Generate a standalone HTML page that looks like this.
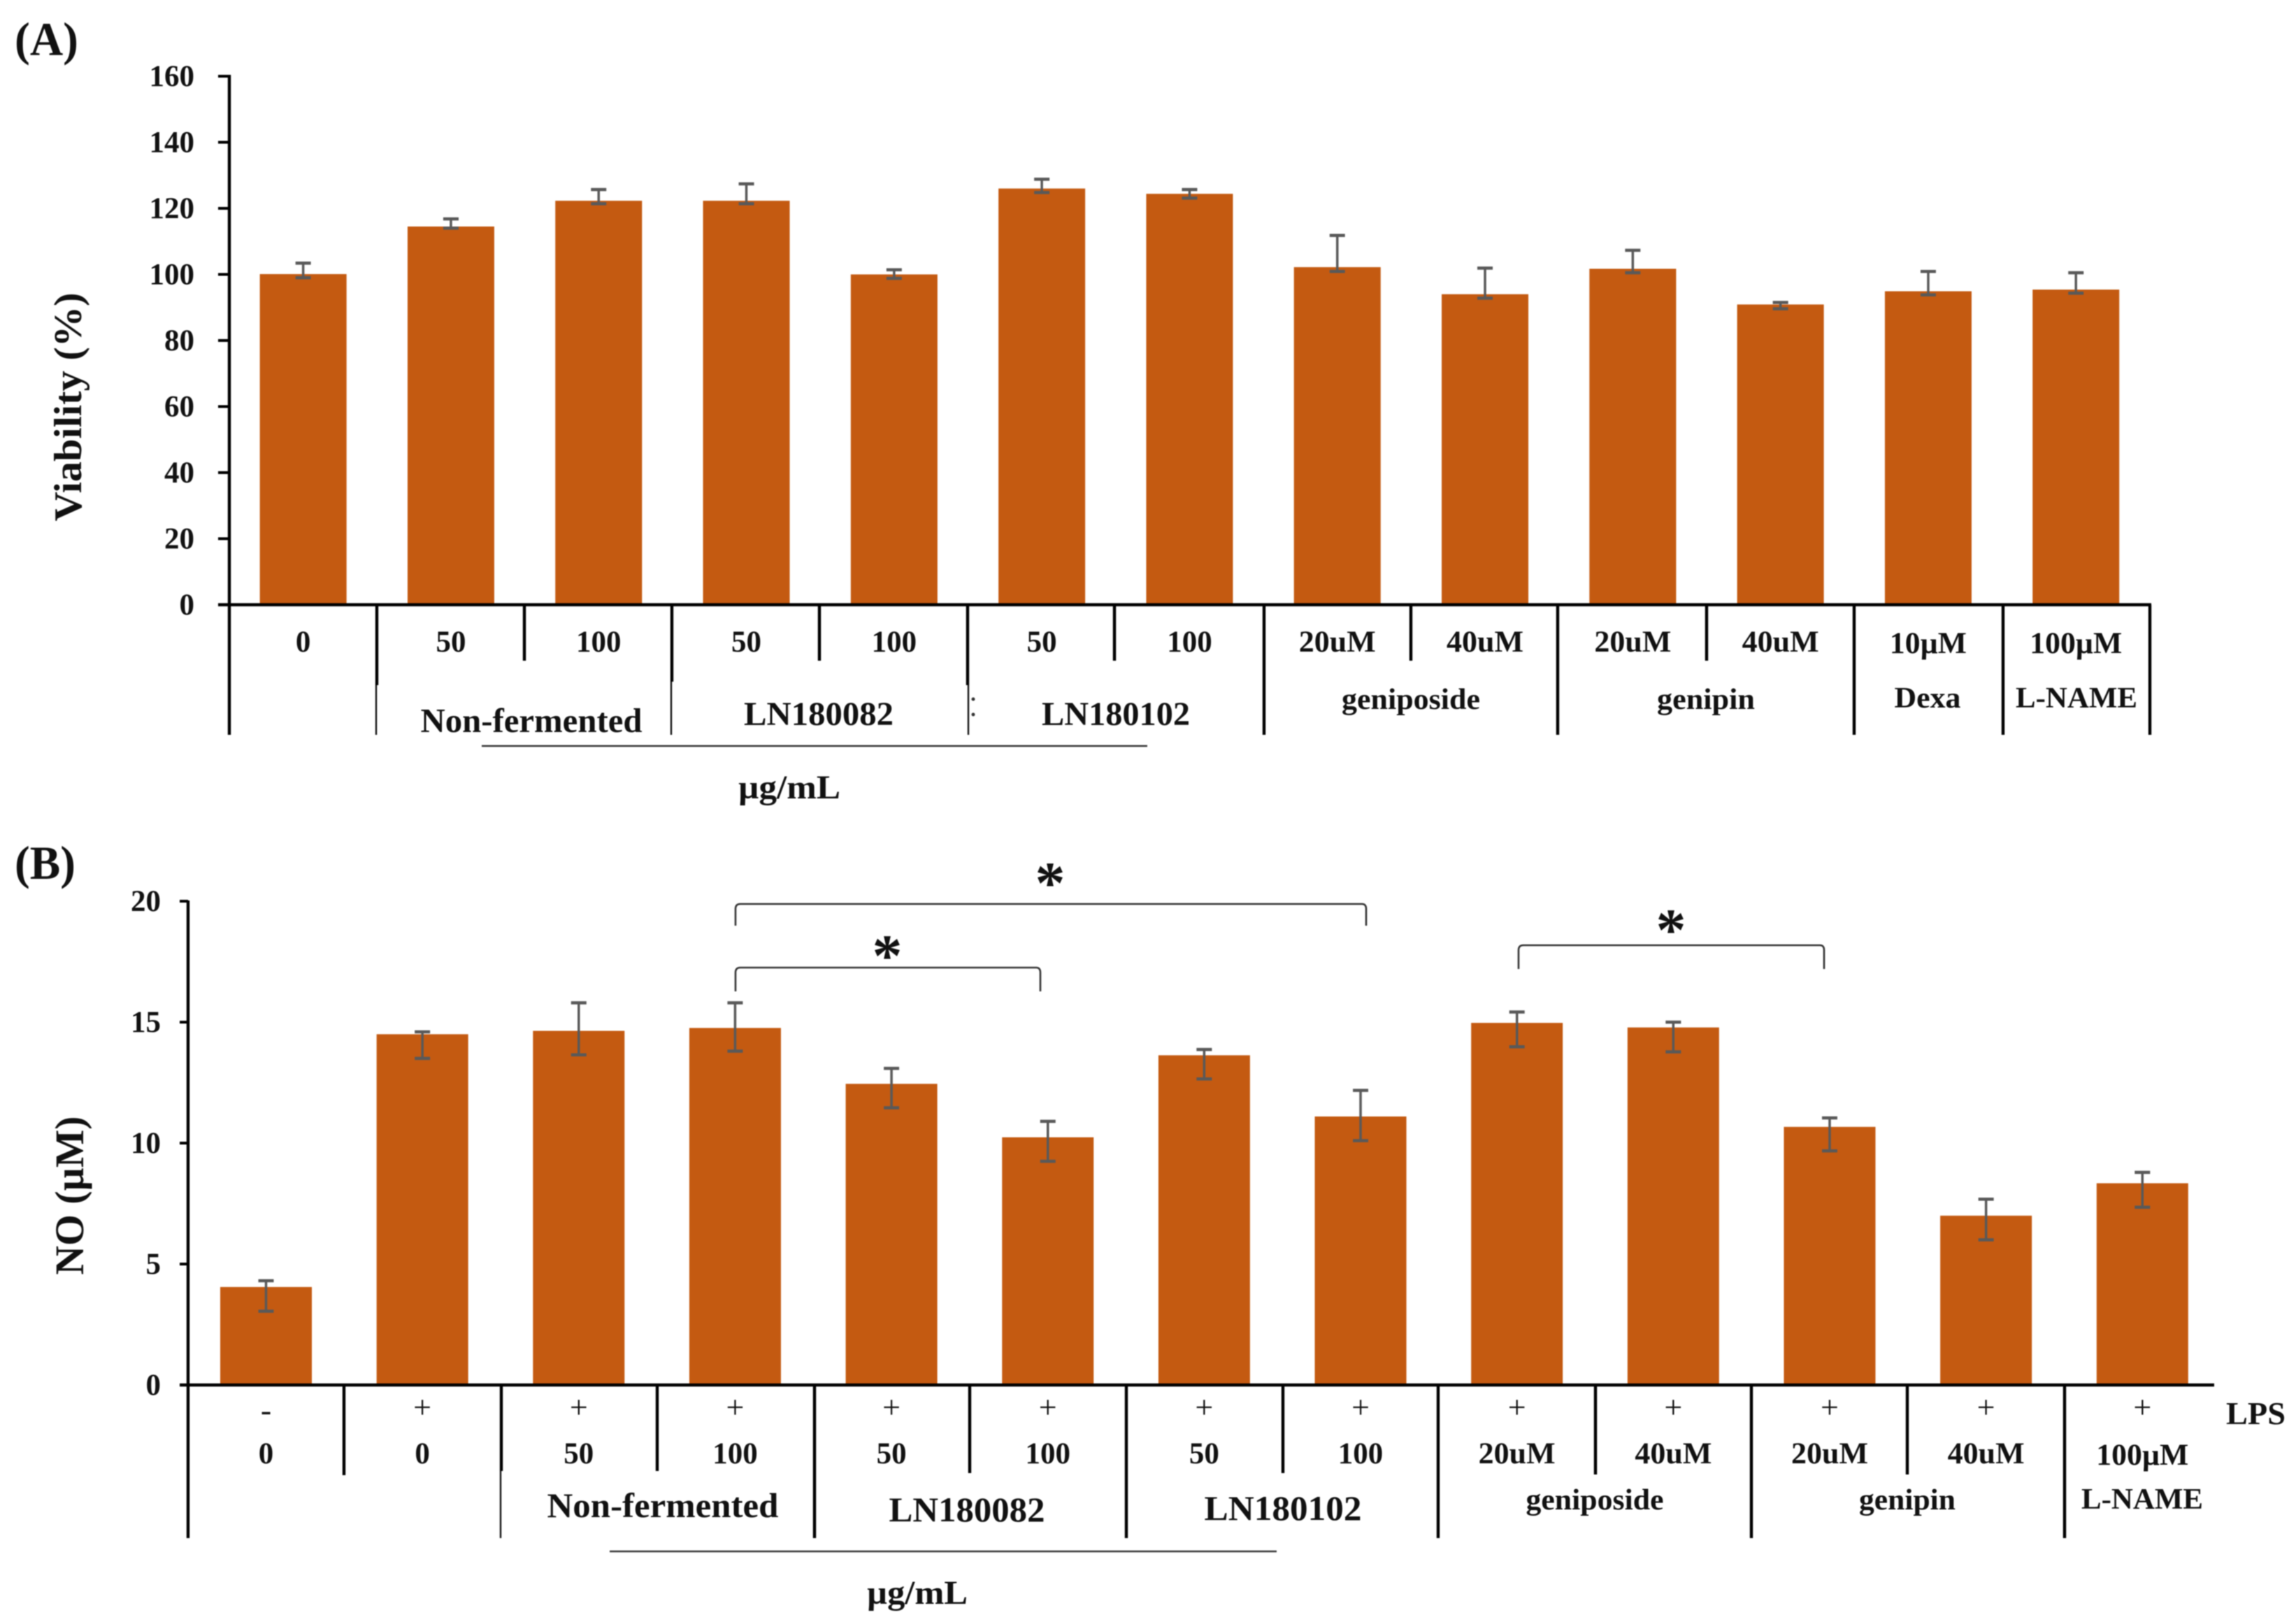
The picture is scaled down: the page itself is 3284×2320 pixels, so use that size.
<!DOCTYPE html>
<html lang="en">
<head>
<meta charset="utf-8">
<title>Viability and NO production bar charts</title>
<style>
html,body{margin:0;padding:0;background:#fff;}
body{width:3284px;height:2320px;overflow:hidden;}
svg{display:block;filter:blur(0.7px);}
text{font-family:"Liberation Serif","DejaVu Serif",serif;font-weight:bold;fill:#111;}
.sep{stroke:#000;stroke-width:4.4;}
.sep-thin{stroke:#111;stroke-width:2.4;}
.note{stroke:#333;stroke-width:2.6;fill:none;}
</style>
</head>
<body>
<svg id="figure" xmlns="http://www.w3.org/2000/svg" width="3284" height="2320" viewBox="0 0 3284 2320">
  <rect x="0" y="0" width="3284" height="2320" fill="#fff"/>

  <!-- Panel A static frame -->
  <text x="21" y="79" font-size="68" textLength="91" lengthAdjust="spacingAndGlyphs">(A)</text>
  <text transform="translate(116,582) rotate(-90)" text-anchor="middle" font-size="56" textLength="327" lengthAdjust="spacingAndGlyphs">Viability (%)</text>
  <g id="panel-a"></g>
  <line class="sep" x1="328" y1="107" x2="328" y2="1051"/>
  <line class="sep" x1="312" y1="865" x2="3077" y2="865"/>
  <g>
    <line class="sep" x1="539" y1="865" x2="539" y2="980"/><line class="sep-thin" x1="538" y1="980" x2="538" y2="1051"/>
    <line class="sep" x1="750" y1="865" x2="750" y2="945"/>
    <line class="sep" x1="961" y1="865" x2="961" y2="975"/><line class="sep-thin" x1="960" y1="975" x2="960" y2="1051"/>
    <line class="sep" x1="1172" y1="865" x2="1172" y2="945"/>
    <line class="sep" x1="1384" y1="865" x2="1384" y2="980"/><line class="sep-thin" x1="1385" y1="980" x2="1385" y2="1051"/>
    <line class="sep" x1="1594" y1="865" x2="1594" y2="945"/>
    <line class="sep" x1="1808" y1="865" x2="1808" y2="1051"/>
    <line class="sep" x1="2018" y1="865" x2="2018" y2="945"/>
    <line class="sep" x1="2228" y1="865" x2="2228" y2="1051"/>
    <line class="sep" x1="2441" y1="865" x2="2441" y2="945"/>
    <line class="sep" x1="2652" y1="865" x2="2652" y2="1051"/>
    <line class="sep" x1="2865" y1="865" x2="2865" y2="1051"/>
    <line class="sep" x1="3075" y1="865" x2="3075" y2="1051"/>
    <circle cx="1392" cy="1000" r="2.5" fill="#333"/><circle cx="1392" cy="1022" r="2.5" fill="#333"/>
  </g>
  <text x="760" y="1047" text-anchor="middle" font-size="49" textLength="317" lengthAdjust="spacingAndGlyphs">Non-fermented</text>
  <text x="1171" y="1037" text-anchor="middle" font-size="48" textLength="214" lengthAdjust="spacingAndGlyphs">LN180082</text>
  <text x="1596" y="1037" text-anchor="middle" font-size="48" textLength="212" lengthAdjust="spacingAndGlyphs">LN180102</text>
  <text x="2018" y="1014" text-anchor="middle" font-size="42" textLength="198" lengthAdjust="spacingAndGlyphs">geniposide</text>
  <text x="2440" y="1014" text-anchor="middle" font-size="42" textLength="140" lengthAdjust="spacingAndGlyphs">genipin</text>
  <text x="2757" y="1012" text-anchor="middle" font-size="42" textLength="95" lengthAdjust="spacingAndGlyphs">Dexa</text>
  <text x="2970" y="1012" text-anchor="middle" font-size="42" textLength="174" lengthAdjust="spacingAndGlyphs">L-NAME</text>
  <line class="note" x1="689" y1="1067" x2="1641" y2="1067"/>
  <text x="1129" y="1142" text-anchor="middle" font-size="48" textLength="146" lengthAdjust="spacingAndGlyphs">µg/mL</text>

  <!-- Panel B static frame -->
  <text x="21" y="1257" font-size="68" textLength="87" lengthAdjust="spacingAndGlyphs">(B)</text>
  <text transform="translate(119,1710) rotate(-90)" text-anchor="middle" font-size="58" textLength="227" lengthAdjust="spacingAndGlyphs">NO (µM)</text>
  <g id="panel-b"></g>
  <line class="sep" x1="269" y1="1288" x2="269" y2="2200"/>
  <line class="sep" x1="257" y1="1981" x2="3167" y2="1981"/>
  <g>
    <line class="sep" x1="492" y1="1981" x2="492" y2="2110"/>
    <line class="sep" x1="717" y1="1981" x2="717" y2="2104"/><line class="sep-thin" x1="716" y1="2104" x2="716" y2="2200"/>
    <line class="sep" x1="940" y1="1981" x2="940" y2="2104"/>
    <line class="sep" x1="1165" y1="1981" x2="1165" y2="2200"/>
    <line class="sep" x1="1387" y1="1981" x2="1387" y2="2107"/>
    <line class="sep" x1="1611" y1="1981" x2="1611" y2="2200"/>
    <line class="sep" x1="1835" y1="1981" x2="1835" y2="2107"/>
    <line class="sep" x1="2057" y1="1981" x2="2057" y2="2200"/>
    <line class="sep" x1="2282" y1="1981" x2="2282" y2="2109"/>
    <line class="sep" x1="2505" y1="1981" x2="2505" y2="2200"/>
    <line class="sep" x1="2728" y1="1981" x2="2728" y2="2109"/>
    <line class="sep" x1="2953" y1="1981" x2="2953" y2="2200"/>
  </g>
  <text x="948" y="2170" text-anchor="middle" font-size="50" textLength="331" lengthAdjust="spacingAndGlyphs">Non-fermented</text>
  <text x="1383" y="2176" text-anchor="middle" font-size="50" textLength="223" lengthAdjust="spacingAndGlyphs">LN180082</text>
  <text x="1835" y="2174" text-anchor="middle" font-size="50" textLength="225" lengthAdjust="spacingAndGlyphs">LN180102</text>
  <text x="2281" y="2159" text-anchor="middle" font-size="42" textLength="197" lengthAdjust="spacingAndGlyphs">geniposide</text>
  <text x="2728" y="2159" text-anchor="middle" font-size="42" textLength="138" lengthAdjust="spacingAndGlyphs">genipin</text>
  <text x="3064" y="2158" text-anchor="middle" font-size="42" textLength="174" lengthAdjust="spacingAndGlyphs">L-NAME</text>
  <text x="3184" y="2037" font-size="46" textLength="85" lengthAdjust="spacingAndGlyphs">LPS</text>
  <line class="note" x1="872" y1="2219" x2="1826" y2="2219"/>
  <text x="1312" y="2294" text-anchor="middle" font-size="48" textLength="144" lengthAdjust="spacingAndGlyphs">µg/mL</text>

  <!-- significance annotations -->
  <path class="note" d="M1052 1324 V1300 Q1052 1293 1059 1293 H1948 Q1954 1293 1954 1300 V1324"/>
  <path class="note" d="M1052 1418 V1391 Q1052 1384 1059 1384 H1482 Q1488 1384 1488 1391 V1418"/>
  <path class="note" d="M2172 1386 V1359 Q2172 1352 2179 1352 H2603 Q2609 1352 2609 1359 V1386"/>
  <text x="1502" y="1292" text-anchor="middle" font-size="86">*</text>
  <text x="1269" y="1396" text-anchor="middle" font-size="86">*</text>
  <text x="2390" y="1359" text-anchor="middle" font-size="86">*</text>
</svg>
<script>
// Panel A data
var yTicksA = [0, 20, 40, 60, 80, 100, 120, 140, 160];
var categoriesA = ['0', '50', '100', '50', '100', '50', '100', '20uM', '40uM', '20uM', '40uM', '10µM', '100µM'];
var valuesA = [100.1, 114.5, 122.3, 122.3, 100, 126, 124.4, 102.2, 94, 101.7, 90.9, 94.9, 95.4];
var errorHighA = [103.4, 116.8, 125.7, 127.4, 101.4, 128.8, 125.7, 111.8, 101.9, 107.3, 91.5, 100.9, 100.5];
var errorLowA = [99, 114, 121.4, 121.4, 98.8, 124.8, 123.1, 100.9, 92.8, 100.5, 89.6, 93.8, 94.3];

// Panel B data
var yTicksB = [0, 5, 10, 15, 20];
var lpsLabelsB = ['-', '+', '+', '+', '+', '+', '+', '+', '+', '+', '+', '+', '+'];
var categoriesB = ['0', '0', '50', '100', '50', '100', '50', '100', '20uM', '40uM', '20uM', '40uM', '100µM'];
var valuesB = [4.05, 14.5, 14.64, 14.76, 12.45, 10.24, 13.63, 11.1, 14.97, 14.78, 10.67, 7, 8.34];
var errorHighB = [4.31, 14.6, 15.8, 15.8, 13.09, 10.9, 13.87, 12.18, 15.42, 15, 11.04, 7.68, 8.79];
var errorLowB = [3.05, 13.5, 13.65, 13.8, 11.46, 9.25, 12.65, 10.1, 13.98, 13.77, 9.68, 6, 7.35];

var SVG_NS = 'http://www.w3.org/2000/svg';

function yScaleA(v) { return 865 - v * 4.725; }
function xScaleA(i) { return 328 + 211.3 * (i + 0.5); }
function yScaleB(v) { return 1981 - v * 34.6; }
function xScaleB(i) { return 380.5 + 223.65 * i; }

function shape(parent, tag, attrs) {
  var el = document.createElementNS(SVG_NS, tag);
  for (var k in attrs) { el.setAttribute(k, attrs[k]); }
  parent.appendChild(el);
  return el;
}

function labelWidth(label) {
  if (label.indexOf('M') < 0) { return 0; }
  return label.length === 4 ? 110 : 132;
}

function drawPanel(root, prefix, cfg) {
  cfg.ticks.forEach(function (t) {
    var tick = shape(root, 'line', { x1: cfg.tickStart, y1: cfg.y(t), x2: cfg.axisX, y2: cfg.y(t), stroke: '#000', 'stroke-width': 4 });
    
    
    var lab = shape(root, 'text', { x: cfg.tickLabelX, y: cfg.y(t) + 14, 'text-anchor': 'end', 'font-size': 43 });
    lab.textContent = String(t);
    
    
  });
  cfg.values.forEach(function (v, i) {
    var cx = cfg.x(i);
    var bar = shape(root, 'rect', { x: cx - cfg.barWidth / 2, y: cfg.y(v), width: cfg.barWidth, height: cfg.y(0) - cfg.y(v), fill: '#C45A11' });
    
    
    var hi = cfg.y(cfg.high[i]);
    var lo = cfg.y(cfg.low[i]);
    var whisker = shape(root, 'line', { x1: cx, y1: hi, x2: cx, y2: lo, stroke: '#595959', 'stroke-width': 3.5 });
    
    
    var capTop = shape(root, 'line', { x1: cx - 11, y1: hi, x2: cx + 11, y2: hi, stroke: '#595959', 'stroke-width': 4.5 });
    
    
    var capBottom = shape(root, 'line', { x1: cx - 11, y1: lo, x2: cx + 11, y2: lo, stroke: '#595959', 'stroke-width': 4.5 });
    
    
    var label = cfg.labels[i];
    var hasUnit = labelWidth(label) > 0;
    var attrs = { x: cx, y: hasUnit && label.indexOf('µ') >= 0 ? cfg.labelY + 2 : cfg.labelY, 'text-anchor': 'middle', 'font-size': 43 };
    if (hasUnit) { attrs.textLength = labelWidth(label); attrs.lengthAdjust = 'spacingAndGlyphs'; }
    var catLabel = shape(root, 'text', attrs);
    catLabel.textContent = label;
    
    
  });
}

drawPanel(document.getElementById('panel-a'), 'a', {
  ticks: yTicksA, values: valuesA, high: errorHighA, low: errorLowA, labels: categoriesA,
  x: xScaleA, y: yScaleA, barWidth: 124, axisX: 328, tickStart: 312, tickLabelX: 278, labelY: 932
});
drawPanel(document.getElementById('panel-b'), 'b', {
  ticks: yTicksB, values: valuesB, high: errorHighB, low: errorLowB, labels: categoriesB,
  x: xScaleB, y: yScaleB, barWidth: 131, axisX: 269, tickStart: 257, tickLabelX: 230, labelY: 2093
});

var panelB = document.getElementById('panel-b');
lpsLabelsB.forEach(function (s, i) {
  var lps = shape(panelB, 'text', { x: xScaleB(i), y: s === '-' ? 2032 : 2028, 'text-anchor': 'middle', 'font-size': 46, style: 'font-weight:normal' });
  lps.textContent = s;
  
  
});
</script>
</body>
</html>
